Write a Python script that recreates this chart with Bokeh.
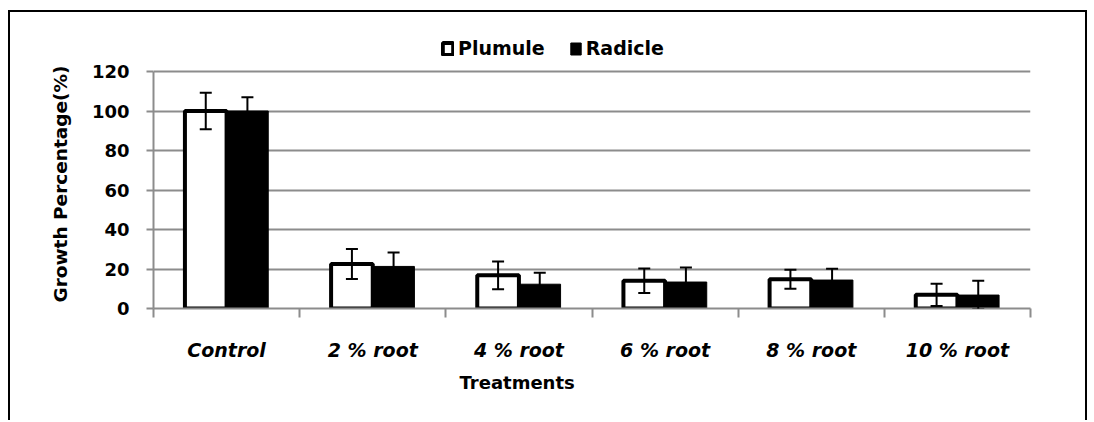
from bokeh.plotting import figure
from bokeh.models import (Range1d, FixedTicker, ColumnDataSource, Whisker, TeeHead,
                          Legend, LegendItem, Title)
from bokeh.embed import file_html
from bokeh.resources import INLINE

categories = ["Control", "2 % root", "4 % root", "6 % root", "8 % root", "10 % root"]
plumule = [100, 22.5, 16.8, 14.0, 14.8, 6.9]
plumule_err = [9.3, 7.6, 7.0, 6.2, 4.8, 5.6]
radicle = [100, 21.3, 12.3, 13.4, 14.4, 6.8]
radicle_err = [7.0, 7.0, 5.8, 7.4, 5.7, 7.2]
y_ticks = [0, 20, 40, 60, 80, 100, 120]

FONT = "DejaVu Sans"
GRAY = "#8c8c8c"
BAR_W = 0.285
OFF = 0.1425
Y_TOP = 120 * 278 / 237  # headroom above the 120 line for the legend

centers = [i + 0.5 for i in range(len(categories))]
px = [c - OFF for c in centers]
rx = [c + OFF for c in centers]

src_p = ColumnDataSource(dict(x=px, top=plumule,
                              upper=[v + e for v, e in zip(plumule, plumule_err)],
                              lower=[v - e for v, e in zip(plumule, plumule_err)]))
src_r = ColumnDataSource(dict(x=rx, top=radicle,
                              upper=[v + e for v, e in zip(radicle, radicle_err)],
                              lower=[v - e for v, e in zip(radicle, radicle_err)]))

p = figure(width=1079, height=410, x_range=Range1d(0, len(categories)),
           y_range=Range1d(0, Y_TOP), output_backend="svg", toolbar_location=None,
           min_border_left=143, min_border_right=59, min_border_top=18,
           min_border_bottom=114)
p.styles = {"border-top": "2px solid black", "border-left": "2px solid black",
            "border-right": "2px solid black", "margin-top": "10px",
            "margin-left": "8px"}
p.outline_line_color = None
p.background_fill_color = "white"
p.border_fill_color = "white"

r1 = p.vbar(x="x", top="top", width=BAR_W, bottom=0, source=src_p,
            fill_color="white", line_color="black", line_width=4)
r2 = p.vbar(x="x", top="top", width=BAR_W, bottom=0, source=src_r,
            fill_color="black", line_color="black", line_width=1)

for src in (src_p, src_r):
    w = Whisker(base="x", upper="upper", lower="lower", source=src,
                line_color="black", line_width=2, level="annotation",
                upper_head=TeeHead(size=12, line_color="black", line_width=2),
                lower_head=TeeHead(size=12, line_color="black", line_width=2))
    p.add_layout(w)

# grid
p.xgrid.visible = False
p.ygrid.grid_line_color = GRAY
p.ygrid.grid_line_width = 2
p.ygrid.ticker = FixedTicker(ticks=y_ticks)

# y axis
yax = p.yaxis[0]
yax.ticker = FixedTicker(ticks=y_ticks)
yax.bounds = (0, 120)
yax.axis_line_color = GRAY
yax.axis_line_width = 2
yax.major_tick_line_color = GRAY
yax.major_tick_line_width = 2
yax.major_tick_out = 7
yax.major_tick_in = 0
yax.minor_tick_line_color = None
yax.major_label_standoff = 17
yax.major_label_text_font = FONT
yax.major_label_text_font_style = "bold"
yax.major_label_text_font_size = "18px"
yax.major_label_text_color = "black"

y_title = Title(text="Growth Percentage(%)", align="left", offset=6, standoff=36,
                text_font=FONT, text_font_style="bold", text_font_size="18.5px",
                text_color="black")
p.add_layout(y_title, "left")

# x axis
xax = p.xaxis[0]
xax.ticker = FixedTicker(ticks=centers, minor_ticks=list(range(len(categories) + 1)))
xax.major_label_overrides = {c: n for c, n in zip(centers, categories)}
xax.axis_line_color = GRAY
xax.axis_line_width = 2
xax.major_tick_out = 0
xax.major_tick_in = 0
xax.major_tick_line_color = None
xax.minor_tick_line_color = GRAY
xax.minor_tick_line_width = 2
xax.minor_tick_out = 9
xax.minor_tick_in = 0
xax.major_label_standoff = 21
xax.major_label_text_font = FONT
xax.major_label_text_font_style = "bold italic"
xax.major_label_text_font_size = "19px"
xax.major_label_text_color = "black"

x_title = Title(text="Treatments", align="left", offset=306, standoff=13,
                text_font=FONT, text_font_style="bold", text_font_size="18px",
                text_color="black")
p.add_layout(x_title, "below")

legend = Legend(items=[LegendItem(label="Plumule", renderers=[r1]),
                       LegendItem(label="Radicle", renderers=[r2])],
                orientation="horizontal", location=(288, 249),
                glyph_width=13, glyph_height=15, label_standoff=4, spacing=24,
                padding=0, margin=0, border_line_color=None,
                background_fill_alpha=0,
                label_text_font=FONT, label_text_font_style="bold",
                label_text_font_size="19px", label_text_color="black")
p.add_layout(legend)

open("out.html", "w").write(file_html(p, INLINE))
